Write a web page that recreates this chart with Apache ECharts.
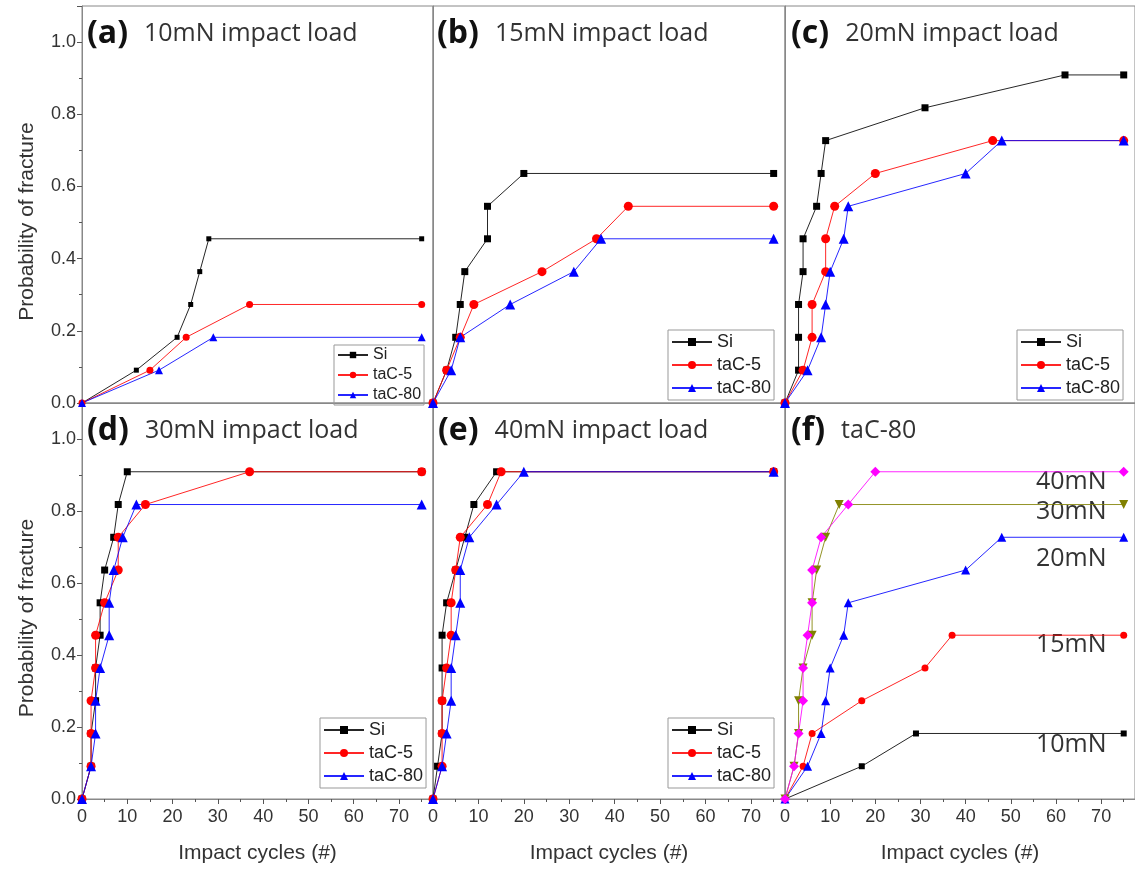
<!DOCTYPE html>
<html lang="en">
<head>
<meta charset="utf-8" />
<title>Probability of fracture</title>
<script src="https://cdn.jsdelivr.net/npm/echarts@6/dist/echarts.min.js"></script>
<style>
  html, body { margin: 0; padding: 0; background: #fff; }
  #main { width: 1135px; height: 869px; }
</style>
</head>
<body>
<div id="main"></div>
<script type="text/javascript">
// data: [impact cycles, probability of fracture]
var si10    = [[0,0],[12,0.091],[21,0.182],[24,0.273],[26,0.364],[28,0.455],[75,0.455]];
var tac5_10 = [[0,0],[15,0.091],[23,0.182],[37,0.273],[75,0.273]];
var tac80_10 = [[0,0],[17,0.091],[29,0.182],[75,0.182]];

var si15    = [[0,0],[3,0.091],[5,0.182],[6,0.273],[7,0.364],[12,0.455],[12,0.545],[20,0.636],[75,0.636]];
var tac5_15 = [[0,0],[3,0.091],[6,0.182],[9,0.273],[24,0.364],[36,0.455],[43,0.545],[75,0.545]];
var tac80_15 = [[0,0],[4,0.091],[6,0.182],[17,0.273],[31,0.364],[37,0.455],[75,0.455]];

var si20    = [[0,0],[3,0.091],[3,0.182],[3,0.273],[4,0.364],[4,0.455],[7,0.545],[8,0.636],[9,0.727],[31,0.818],[62,0.909],[75,0.909]];
var tac5_20 = [[0,0],[4,0.091],[6,0.182],[6,0.273],[9,0.364],[9,0.455],[11,0.545],[20,0.636],[46,0.727],[75,0.727]];
var tac80_20 = [[0,0],[5,0.091],[8,0.182],[9,0.273],[10,0.364],[13,0.455],[14,0.545],[40,0.636],[48,0.727],[75,0.727]];

var si30    = [[0,0],[2,0.091],[2,0.182],[3,0.273],[3,0.364],[4,0.455],[4,0.545],[5,0.636],[7,0.727],[8,0.818],[10,0.909],[75,0.909]];
var tac5_30 = [[0,0],[2,0.091],[2,0.182],[2,0.273],[3,0.364],[3,0.455],[5,0.545],[8,0.636],[8,0.727],[14,0.818],[37,0.909],[75,0.909]];
var tac80_30 = [[0,0],[2,0.091],[3,0.182],[3,0.273],[4,0.364],[6,0.455],[6,0.545],[7,0.636],[9,0.727],[12,0.818],[75,0.818]];

var si40    = [[0,0],[1,0.091],[2,0.182],[2,0.273],[2,0.364],[2,0.455],[3,0.545],[5,0.636],[7,0.727],[9,0.818],[14,0.909],[75,0.909]];
var tac5_40 = [[0,0],[2,0.091],[2,0.182],[2,0.273],[3,0.364],[4,0.455],[4,0.545],[5,0.636],[6,0.727],[12,0.818],[15,0.909],[75,0.909]];
var tac80_40 = [[0,0],[2,0.091],[3,0.182],[4,0.273],[4,0.364],[5,0.455],[6,0.545],[6,0.636],[8,0.727],[14,0.818],[20,0.909],[75,0.909]];

var sampleNames = ['Si', 'taC-5', 'taC-80'];
var loadNames = ['10mN', '15mN', '20mN', '30mN', '40mN'];
var panelTags = ['(a)', '(b)', '(c)', '(d)', '(e)', '(f)'];
var panelTitles = ['10mN impact load', '15mN impact load', '20mN impact load', '30mN impact load', '40mN impact load', 'taC-80'];
var xMax = 77.5, xStep = 10;
var yMax = 1.1, yStep = 0.2;

var FONT = '"Liberation Sans", Arial, sans-serif';
var TFONT = '"Open Sans", "Noto Sans", sans-serif';

// panel layout
var cols = [[82, 351], [433, 352], [785, 350]];
var rows = [[6, 397], [403, 396]];
var titleLeft = [87, 437, 791, 87, 438, 791];
var legendPos = [[334, 345], [668, 330], [1017, 330], [320, 718], [668, 718]];

var style = {
    'Si':     { color: '#000000', symbol: 'rect', size: 7 },
    'taC-5':  { color: '#ff0000', symbol: 'circle', size: 9 },
    'taC-80': { color: '#0000ff', symbol: 'triangle', size: 10 },
    '10mN':   { color: '#000000', symbol: 'rect', size: 6 },
    '15mN':   { color: '#ff0000', symbol: 'circle', size: 7 },
    '20mN':   { color: '#0000ff', symbol: 'triangle', size: 9 },
    '30mN':   { color: '#808000', symbol: 'triangle', size: 9, rotate: 180 },
    '40mN':   { color: '#ff00ff', symbol: 'diamond', size: 10 }
};

var grids = [], xAxes = [], yAxes = [], titles = [], legends = [], series = [];

for (var i = 0; i < 6; i++) {
    var r = Math.floor(i / 3), c = i % 3;
    grids.push({
        left: cols[c][0], width: cols[c][1], top: rows[r][0], height: rows[r][1],
        show: true, borderColor: '#888', borderWidth: 1, backgroundColor: 'transparent'
    });
    xAxes.push({
        type: 'value', gridIndex: i, min: 0, max: xMax, interval: xStep,
        axisLine: { show: true, lineStyle: { color: '#888' } },
        axisTick: { show: r === 1, length: 5, lineStyle: { color: '#555' } },
        minorTick: { show: r === 1, splitNumber: 2, length: 3, lineStyle: { color: '#555' } },
        axisLabel: { show: r === 1, showMaxLabel: false, fontSize: 18, color: '#333', margin: 9, fontFamily: FONT },
        splitLine: { show: false },
        name: r === 1 ? 'Impact cycles (#)' : '',
        nameLocation: 'middle', nameGap: 44,
        nameTextStyle: { fontSize: 21, color: '#333', fontFamily: FONT }
    });
    yAxes.push({
        type: 'value', gridIndex: i, min: 0, max: yMax, interval: yStep,
        axisLine: { show: true, lineStyle: { color: '#888' } },
        axisTick: { show: c === 0, length: 5, lineStyle: { color: '#555' } },
        minorTick: { show: c === 0, splitNumber: 2, length: 3, lineStyle: { color: '#555' } },
        axisLabel: {
            show: c === 0, showMaxLabel: false, fontSize: 18, color: '#333', margin: 6, fontFamily: FONT,
            formatter: function (v) { return v.toFixed(1); }
        },
        splitLine: { show: false },
        name: c === 0 ? 'Probability of fracture' : '',
        nameLocation: 'middle', nameGap: 44,
        nameTextStyle: { fontSize: 21, color: '#333', fontFamily: FONT, padding: [0, 34, 0, 0] }
    });
    titles.push({
        left: titleLeft[i], top: rows[r][0] + 10, padding: 0,
        text: '{b|' + panelTags[i] + '}{n|' + panelTitles[i] + '}',
        textStyle: {
            fontWeight: 'normal',
            rich: {
                b: { fontSize: 32, fontWeight: 'bold', color: '#111', fontFamily: TFONT, lineHeight: 36, padding: [0, 16, 0, 0] },
                n: { fontSize: 25, fontWeight: 'normal', color: '#333', fontFamily: TFONT, lineHeight: 36 }
            }
        }
    });
}

for (var k = 0; k < 5; k++) {
    var small = k === 0;
    legends.push({
        left: legendPos[k][0], top: legendPos[k][1], orient: 'vertical',
        data: sampleNames, selectedMode: false,
        borderColor: '#999', borderWidth: 1, borderRadius: 0,
        padding: small ? [2, 3, 2, 3] : [3, 3, 3, 3],
        itemGap: small ? 4 : 5,
        itemWidth: small ? 30 : 40, itemHeight: small ? 8 : 10,
        textStyle: { fontSize: small ? 16 : 18, lineHeight: small ? 16 : 18, color: '#222', fontFamily: FONT }
    });
}

function addSeries(name, data, idx, shrink) {
    var s = style[name];
    var size = shrink ? s.size - 2 : s.size;
    series.push({
        name: name, type: 'line', xAxisIndex: idx, yAxisIndex: idx, data: data,
        symbol: s.symbol, symbolSize: size, symbolRotate: s.rotate || 0, clip: false,
        itemStyle: { color: s.color },
        lineStyle: { color: s.color, width: 1, opacity: 0.85 },
        emphasis: { disabled: true }
    });
}

var panelData = [
    [si10, tac5_10, tac80_10],
    [si15, tac5_15, tac80_15],
    [si20, tac5_20, tac80_20],
    [si30, tac5_30, tac80_30],
    [si40, tac5_40, tac80_40]
];
for (var p = 0; p < 5; p++) {
    for (var j = 0; j < 3; j++) {
        addSeries(sampleNames[j], panelData[p][j], p, p === 0);
    }
}
var fData = [tac80_10, tac80_15, tac80_20, tac80_30, tac80_40];
for (var q = 0; q < 5; q++) {
    addSeries(loadNames[q], fData[q], 5, false);
}

// load labels in panel (f)
var fLabelY = [748, 648, 562, 515, 485];
var graphics = [];
for (var g = 0; g < 5; g++) {
    graphics.push({
        type: 'text', left: 1036, top: fLabelY[g] - 16, silent: true,
        style: { text: loadNames[g], fill: '#333', font: '25px ' + TFONT }
    });
}

var myChart = echarts.init(document.getElementById('main'), null, { renderer: 'canvas' });
var option = {
    animation: false,
    backgroundColor: '#fff',
    title: titles,
    legend: legends,
    grid: grids,
    xAxis: xAxes,
    yAxis: yAxes,
    graphic: graphics,
    series: series
};
myChart.setOption(option);

window.onresize = function () {
    myChart.resize();
};
</script>
</body>
</html>
